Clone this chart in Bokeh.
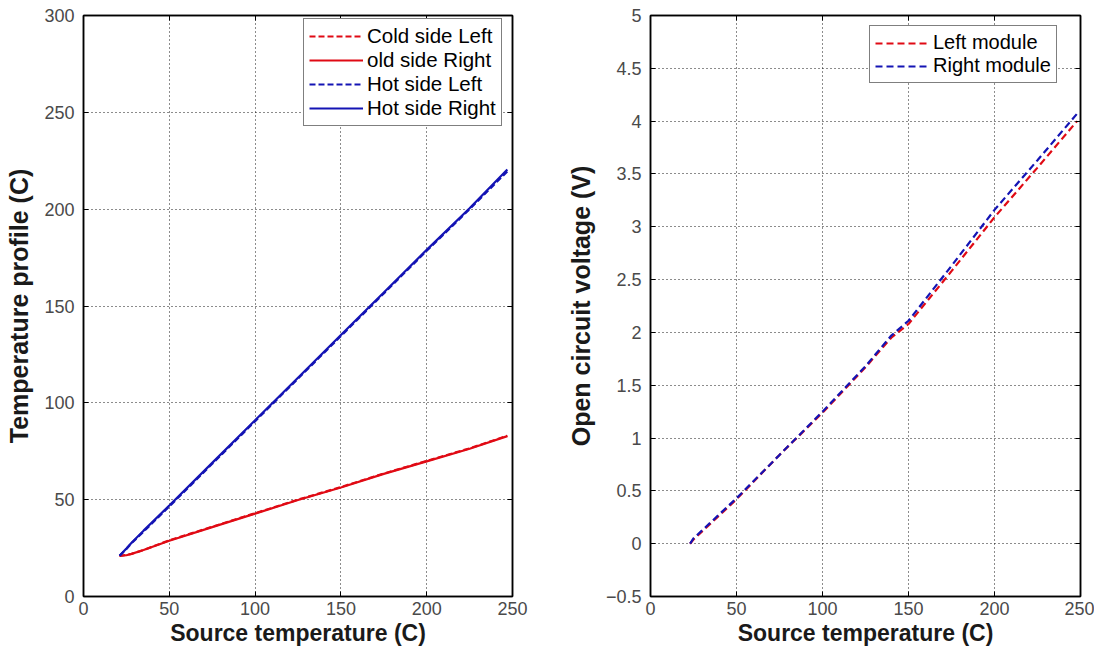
from bokeh.plotting import figure
from bokeh.layouts import row
from bokeh.models import LinearAxis, Range1d, FixedTicker, Legend, LegendItem
from bokeh.embed import file_html
from bokeh.resources import INLINE

# Left panel data
src_temp_a = [21, 25, 28, 35, 50, 75, 100, 125, 150, 175, 200, 225, 247]
cold_left = [21, 21.5, 22, 24, 29, 36, 43, 50, 56.5, 63.5, 70, 76.5, 83]
cold_right = [21, 21.3, 22, 24, 28.8, 35.8, 42.8, 49.8, 56.3, 63.3, 69.8, 76.3, 82.8]
hot_left = [21, 24.5, 27.5, 33.5, 46.5, 68.5, 90.5, 112.5, 134.5, 156.5, 178.5, 200, 219.5]
hot_right = [21, 24.8, 27.8, 34, 47, 69, 91, 113, 135, 157, 179, 200.5, 220.5]

# Right panel data
src_temp_b = [23, 25, 50, 75, 100, 125, 140, 150, 175, 200, 225, 248]
left_module = [0, 0.04, 0.42, 0.84, 1.24, 1.67, 1.95, 2.08, 2.58, 3.09, 3.56, 4.0]
right_module = [0, 0.05, 0.43, 0.84, 1.25, 1.68, 1.97, 2.11, 2.63, 3.16, 3.63, 4.07]

x_ticks = [0, 50, 100, 150, 200, 250]
y_ticks_a = [0, 50, 100, 150, 200, 250, 300]
y_ticks_b = [-0.5, 0, 0.5, 1, 1.5, 2, 2.5, 3, 3.5, 4, 4.5, 5]

FONT = "Liberation Sans"
RED = "#e00a14"
BLUE = "#1414b4"


def style_axis(ax, ticks, labels=True):
    ax.ticker = FixedTicker(ticks=ticks)
    ax.major_tick_in = 5
    ax.major_tick_out = 0
    ax.minor_tick_in = 0
    ax.minor_tick_out = 0
    ax.axis_line_color = "black"
    ax.axis_line_width = 1.5
    ax.major_tick_line_color = "black"
    ax.major_label_text_font = FONT
    ax.major_label_text_font_size = "18px"
    ax.major_label_text_color = "#4a4a4a"
    ax.axis_label_text_font = FONT
    ax.axis_label_text_font_style = "bold"
    ax.axis_label_text_color = "#1a1a1a"
    if not labels:
        ax.major_label_text_font_size = "0px"
        ax.major_label_text_alpha = 0
        ax.major_label_standoff = 0


def make_fig(width, fl, fr, fw, xr, yr, yticks, ylabel):
    p = figure(width=width, height=643, output_backend="svg", toolbar_location=None,
               x_range=Range1d(*xr), y_range=Range1d(*yr),
               min_border_left=fl, min_border_right=fr, min_border_top=15, min_border_bottom=45,
               frame_height=581, frame_width=fw)
    p.outline_line_color = "black"
    p.outline_line_width = 1.5
    p.background_fill_color = "white"
    style_axis(p.xaxis[0], x_ticks)
    style_axis(p.yaxis[0], yticks)
    p.xaxis[0].axis_label = "Source temperature (C)"
    p.yaxis[0].axis_label = ylabel
    p.xaxis[0].axis_label_text_font_size = "23px"
    p.yaxis[0].axis_label_text_font_size = "25px"
    p.xaxis[0].major_label_standoff = 5
    p.yaxis[0].major_label_standoff = 9
    p.xaxis[0].axis_label_standoff = 2
    p.yaxis[0].axis_label_standoff = 8
    top = LinearAxis()
    style_axis(top, x_ticks, labels=False)
    right = LinearAxis()
    style_axis(right, yticks, labels=False)
    p.add_layout(top, "above")
    p.add_layout(right, "right")
    p.xgrid[0].ticker = FixedTicker(ticks=x_ticks)
    p.ygrid[0].ticker = FixedTicker(ticks=yticks)
    for g in (p.xgrid[0], p.ygrid[0]):
        g.grid_line_color = "black"
        g.grid_line_dash = "1 3"
        g.grid_line_width = 1
        g.grid_line_alpha = 0.9
    return p


p1 = make_fig(560, 83, 48, 429, (0, 250), (0, 300), y_ticks_a, "Temperature profile (C)")
r1 = p1.line(src_temp_a, cold_left, line_color=RED, line_width=2.2, line_dash="6 3")
r2 = p1.line(src_temp_a, cold_right, line_color=RED, line_width=2.2)
r3 = p1.line(src_temp_a, hot_left, line_color=BLUE, line_width=2.2, line_dash="6 3")
r4 = p1.line(src_temp_a, hot_right, line_color=BLUE, line_width=2.2)
leg1 = Legend(items=[LegendItem(label="Cold side Left", renderers=[r1]),
                     LegendItem(label="old side Right", renderers=[r2]),
                     LegendItem(label="Hot side Left", renderers=[r3]),
                     LegendItem(label="Hot side Right", renderers=[r4])],
              location=(220, 470))
p2 = make_fig(534, 90, 14, 430, (0, 250), (-0.5, 5), y_ticks_b, "Open circuit voltage (V)")
q1 = p2.line(src_temp_b, left_module, line_color=RED, line_width=2.2, line_dash="7 4")
q2 = p2.line(src_temp_b, right_module, line_color=BLUE, line_width=2.2, line_dash="7 4")
leg2 = Legend(items=[LegendItem(label="Left module", renderers=[q1]),
                     LegendItem(label="Right module", renderers=[q2])],
              location=(219, 513))

for leg in (leg1, leg2):
    leg.border_line_color = "black"
    leg.border_line_width = 1
    leg.label_text_font = FONT
    leg.label_text_font_size = "20.5px"
    leg.label_text_color = "black"
    leg.glyph_width = 54
    leg.glyph_height = 20
    leg.label_height = 20
    leg.spacing = 0
    leg.padding = 5
    leg.margin = 0
    leg.label_standoff = 4
    leg.background_fill_alpha = 1
leg2.label_text_font_size = "20px"
p1.add_layout(leg1, "center")
p2.add_layout(leg2, "center")

layout = row(p1, p2)
open("out.html", "w").write(file_html(layout, INLINE))
